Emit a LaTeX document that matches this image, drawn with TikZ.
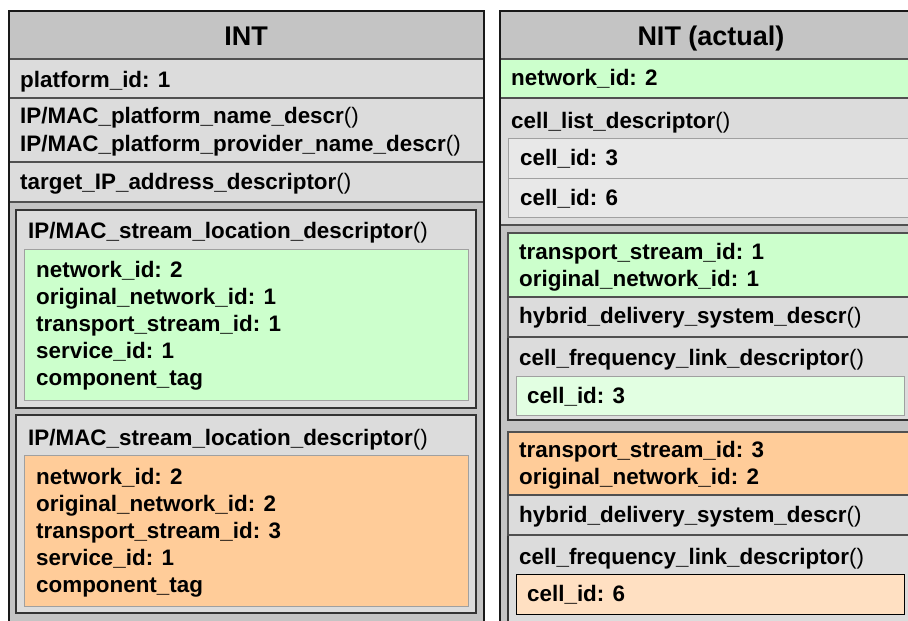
\documentclass[tikz,border=0pt]{standalone}
\usepackage{fontspec}
\setmainfont{Liberation Sans}
\definecolor{hdr}{HTML}{C4C4C4}
\definecolor{rowc}{HTML}{DCDCDC}
\definecolor{grn}{HTML}{CCFFCC}
\definecolor{org}{HTML}{FFCC99}
\definecolor{cel}{HTML}{E8E8E8}
\definecolor{lgrn}{HTML}{E2FFE2}
\definecolor{lorg}{HTML}{FFE0C2}
\definecolor{sep}{HTML}{505050}
\definecolor{lsep}{HTML}{A0A0A0}
\tikzset{
  rbox/.style={anchor=north west, inner sep=0pt, outer sep=0pt},
  panelfill/.style={rbox, fill=hdr},
  outline/.style={draw=black!90, line width=2.4pt},
  hdrrow/.style={rbox, fill=hdr, draw=black, line width=1.4pt},
  rowbox/.style={rbox, fill=rowc, draw=sep, line width=1.4pt},
  grnrow/.style={rbox, fill=grn, draw=sep, line width=1.4pt},
  orgrow/.style={rbox, fill=org, draw=sep, line width=1.4pt},
  inbox/.style={rbox, fill=rowc, draw=black!80, line width=1.6pt},
  grnbox/.style={rbox, fill=grn, draw=lsep, line width=1pt},
  orgbox/.style={rbox, fill=org, draw=lsep, line width=1pt},
  celbox/.style={rbox, fill=cel, draw=lsep, line width=1pt},
  lgrnbox/.style={rbox, fill=lgrn, draw=lsep, line width=1pt},
  lorgbox/.style={rbox, fill=lorg, draw=black, line width=1pt},
  txt/.style={anchor=base west, inner sep=0pt, font=\fontsize{22.4}{27}\selectfont\bfseries},
  ttl/.style={anchor=base, inner sep=0pt, font=\fontsize{27}{32}\selectfont\bfseries},
}
\newcommand\mkbox[6]{\node[#1, minimum width={(#5-#3)*1pt}, minimum height={(#6-#4)*1pt}] (#2) at (#3,#4) {};}
\begin{document}
\begin{tikzpicture}[x=1pt,y=-1pt]
\useasboundingbox[fill=white] (0,0) rectangle (908,621);
% ---------- INT ----------
\mkbox{panelfill}{intp}{9}{11}{484}{640}
\mkbox{hdrrow}{intt}{9}{11}{484}{59}
\mkbox{rowbox}{ir1}{9}{59}{484}{98}
\mkbox{rowbox}{ir2}{9}{98}{484}{162}
\mkbox{rowbox}{ir3}{9}{162}{484}{202}
\mkbox{inbox}{s1}{16}{210}{476}{408}
\mkbox{grnbox}{s1g}{24}{249}{468}{400}
\mkbox{inbox}{s2}{16}{415}{476}{613}
\mkbox{orgbox}{s2g}{24}{455}{468}{606}
\draw[outline] (intp.north west) rectangle (intp.south east);
\node[ttl] (tint) at (246,45) {INT};
\node[txt] (tpid) at (20,87) {platform\_id: 1};
\node[txt] (tpn) at (20,123) {IP/MAC\_platform\_name\_descr\textmd{()}};
\node[txt] (tppn) at (20,151) {IP/MAC\_platform\_provider\_name\_descr\textmd{()}};
\node[txt] (ttip) at (20,189) {target\_IP\_address\_descriptor\textmd{()}};
\node[txt] (ts1) at (28,238) {IP/MAC\_stream\_location\_descriptor\textmd{()}};
\node[txt] (ta1) at (36,277) {network\_id: 2};
\node[txt] (ta2) at (36,304) {original\_network\_id: 1};
\node[txt] (ta3) at (36,331) {transport\_stream\_id: 1};
\node[txt] (ta4) at (36,358) {service\_id: 1};
\node[txt] (ta5) at (36,385) {component\_tag};
\node[txt] (ts2) at (28,445) {IP/MAC\_stream\_location\_descriptor\textmd{()}};
\node[txt] (tb1) at (36,484) {network\_id: 2};
\node[txt] (tb2) at (36,511) {original\_network\_id: 2};
\node[txt] (tb3) at (36,538) {transport\_stream\_id: 3};
\node[txt] (tb4) at (36,565) {service\_id: 1};
\node[txt] (tb5) at (36,592) {component\_tag};
% ---------- NIT ----------
\mkbox{panelfill}{nitp}{500}{11}{930}{640}
\mkbox{hdrrow}{nitt}{500}{11}{930}{59}
\mkbox{grnrow}{nr1}{500}{59}{930}{98}
\mkbox{rowbox}{nr2}{500}{98}{930}{225}
\mkbox{celbox}{nc3}{508}{138}{930}{178}
\mkbox{celbox}{nc6}{508}{178}{930}{217}
\mkbox{inbox}{b1}{508}{233}{930}{420}
\mkbox{grnrow}{b1g}{508}{233}{930}{297}
\mkbox{rowbox}{b1h}{508}{297}{930}{337}
\mkbox{lgrnbox}{b1c}{516}{376}{904}{415}
\mkbox{inbox}{b2}{508}{432}{930}{640}
\mkbox{orgrow}{b2o}{508}{432}{930}{495}
\mkbox{rowbox}{b2h}{508}{495}{930}{535}
\mkbox{lorgbox}{b2c}{516}{574}{904}{614}
\draw[outline] (nitp.north west) rectangle (nitp.south east);
\node[ttl] (tnit) at (711,45) {NIT (actual)};
\node[txt] (tnid) at (511,85) {network\_id: 2};
\node[txt] (tcld) at (511,128) {cell\_list\_descriptor\textmd{()}};
\node[txt] (tc3) at (520,165) {cell\_id: 3};
\node[txt] (tc6) at (520,205) {cell\_id: 6};
\node[txt] (tu1) at (519,259) {transport\_stream\_id: 1};
\node[txt] (tu2) at (519,286) {original\_network\_id: 1};
\node[txt] (tu3) at (519,323) {hybrid\_delivery\_system\_descr\textmd{()}};
\node[txt] (tu4) at (519,365) {cell\_frequency\_link\_descriptor\textmd{()}};
\node[txt] (tu5) at (527,403) {cell\_id: 3};
\node[txt] (tv1) at (519,457) {transport\_stream\_id: 3};
\node[txt] (tv2) at (519,484) {original\_network\_id: 2};
\node[txt] (tv3) at (519,522) {hybrid\_delivery\_system\_descr\textmd{()}};
\node[txt] (tv4) at (519,564) {cell\_frequency\_link\_descriptor\textmd{()}};
\node[txt] (tv5) at (527,601) {cell\_id: 6};
\end{tikzpicture}
\end{document}
